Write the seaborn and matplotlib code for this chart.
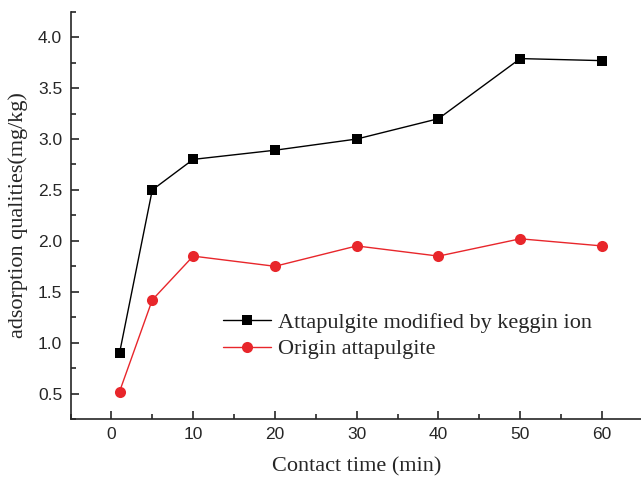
import matplotlib
matplotlib.use("Agg")
import matplotlib.pyplot as plt
import seaborn as sns
import pandas as pd
from matplotlib.ticker import MultipleLocator, FormatStrFormatter

contact_time = [1, 5, 10, 20, 30, 40, 50, 60]
modified = [0.90, 2.50, 2.80, 2.89, 3.00, 3.20, 3.79, 3.77]
origin = [0.52, 1.42, 1.85, 1.75, 1.95, 1.85, 2.02, 1.95]

sns.set_style("ticks")
plt.rcParams["font.family"] = ["Liberation Serif", "DejaVu Serif"]

df = pd.DataFrame({"time": contact_time, "modified": modified, "origin": origin})

fig = plt.figure(figsize=(6.41, 4.78), dpi=100)
ax = fig.add_axes([0.110, 0.1234, 0.893, 0.852])

sns.lineplot(data=df, x="time", y="modified", ax=ax, color="black", marker="s",
             markersize=7, markeredgewidth=0, linewidth=1,
             label="Attapulgite modified by keggin ion")
sns.lineplot(data=df, x="time", y="origin", ax=ax, color="#e8262b", marker="o",
             markersize=8, markeredgewidth=0, linewidth=1,
             label="Origin attapulgite")

ax.set_xlim(-5, 65)
ax.set_ylim(0.25, 4.25)
ax.set_xticks([0, 10, 20, 30, 40, 50, 60])
ax.set_yticks([0.5, 1.0, 1.5, 2.0, 2.5, 3.0, 3.5, 4.0])
ax.xaxis.set_minor_locator(MultipleLocator(5))
ax.yaxis.set_minor_locator(MultipleLocator(0.25))
ax.yaxis.set_major_formatter(FormatStrFormatter("%.1f"))
ax.tick_params(which="major", direction="in", length=6, width=1.2,
               labelsize=12.5, pad=6)
ax.tick_params(which="minor", direction="in", length=3.5, width=1.2)
for lbl in ax.get_xticklabels() + ax.get_yticklabels():
    lbl.set_family(["Liberation Sans", "DejaVu Sans"])

sns.despine(ax=ax)
ax.spines["left"].set_linewidth(1.2)
ax.spines["bottom"].set_linewidth(1.2)

ax.set_xlabel("Contact time (min)", fontsize=16, labelpad=11)
ax.set_ylabel("adsorption qualities(mg/kg)", fontsize=16, labelpad=7)

ax.legend(loc="upper left", bbox_to_anchor=(0.250, 0.283), frameon=False,
          fontsize=16, handlelength=2.2, handletextpad=0.3,
          labelspacing=0.25, borderaxespad=0)

fig.savefig("out.png", dpi=100)
